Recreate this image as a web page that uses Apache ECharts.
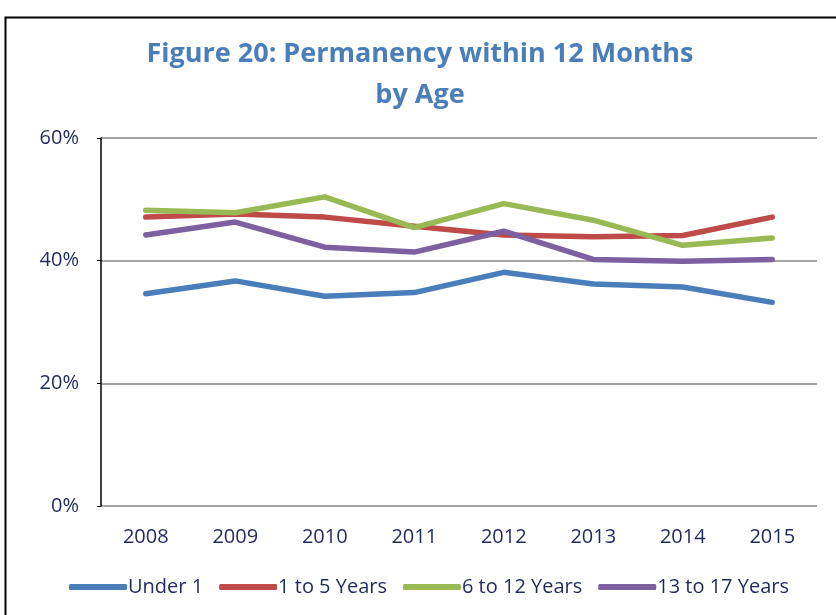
<!DOCTYPE html>
<html>
<head>
<meta charset="utf-8">
<script src="https://cdn.jsdelivr.net/npm/echarts@6/dist/echarts.min.js"></script>
<style>
  html, body { margin: 0; padding: 0; background: #fff; }
  #main { width: 836px; height: 615px; }
</style>
</head>
<body>
<div id="main"></div>
<script>
  var years = ['2008', '2009', '2010', '2011', '2012', '2013', '2014', '2015'];
  var under1 = [34.6, 36.7, 34.2, 34.8, 38.1, 36.2, 35.7, 33.2];
  var age1to5 = [47.1, 47.6, 47.1, 45.6, 44.2, 43.9, 44.1, 47.1];
  var age6to12 = [48.2, 47.8, 50.4, 45.4, 49.3, 46.6, 42.5, 43.7];
  var age13to17 = [44.2, 46.3, 42.2, 41.4, 44.8, 40.2, 39.9, 40.2];
  var yTicks = [0, 20, 40, 60];

  var navy = '#1F2A5C';
  var font = '"Open Sans", sans-serif';

  function mkLine(name, data, color) {
    return {
      name: name,
      type: 'line',
      data: data,
      symbol: 'none',
      lineStyle: { width: 5.5, color: color, cap: 'round', join: 'round' },
      itemStyle: { color: color }
    };
  }

  var chart = echarts.init(document.getElementById('main'));
  chart.setOption({
    animation: false,
    backgroundColor: '#fff',
    title: {
      text: 'Figure 20: Permanency within 12 Months\nby Age',
      left: 415,
      top: 29,
      textAlign: 'center',
      textStyle: {
        color: '#4A7EBB',
        fontFamily: font,
        fontWeight: 'bold',
        fontSize: 27,
        lineHeight: 41
      }
    },
    graphic: [{
      type: 'rect',
      shape: { x: 5.5, y: 17.5, width: 840, height: 610 },
      style: { fill: 'none', stroke: '#000', lineWidth: 2 },
      silent: true
    }],
    legend: {
      bottom: 13,
      left: 64,
      icon: 'roundRect',
      itemWidth: 58,
      itemHeight: 6,
      itemGap: 16,
      textStyle: { color: navy, fontFamily: font, fontSize: 20, padding: [0, 0, 0, -4] },
      data: ['Under 1', '1 to 5 Years', '6 to 12 Years', '13 to 17 Years']
    },
    grid: { left: 101, right: 19, top: 138, bottom: 109 },
    xAxis: {
      type: 'category',
      data: years,
      boundaryGap: true,
      axisLine: { show: false },
      axisTick: { show: false },
      axisLabel: { color: navy, fontFamily: font, fontSize: 20, margin: 21 }
    },
    yAxis: {
      type: 'value',
      min: yTicks[0],
      max: yTicks[yTicks.length - 1],
      interval: 20,
      axisLine: { show: true, lineStyle: { color: '#000', width: 1.5 } },
      axisTick: { show: true, length: 4, lineStyle: { color: '#000' } },
      splitLine: { lineStyle: { color: '#888', width: 1.5 } },
      axisLabel: {
        color: navy, fontFamily: font, fontSize: 20, margin: 22,
        formatter: function (v) { return v + '%'; }
      }
    },
    series: [
      mkLine('Under 1', under1, '#4A7EBB'),
      mkLine('1 to 5 Years', age1to5, '#BE4B48'),
      mkLine('6 to 12 Years', age6to12, '#98B954'),
      mkLine('13 to 17 Years', age13to17, '#7D60A0')
    ]
  });
</script>
</body>
</html>
